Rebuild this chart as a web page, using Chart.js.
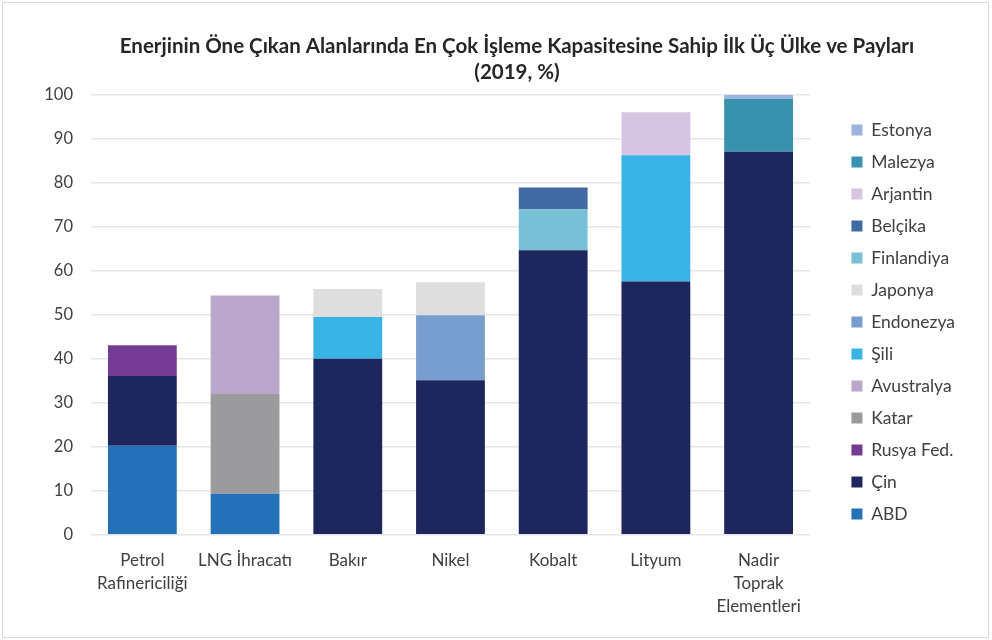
<!DOCTYPE html>
<html>
<head>
<meta charset="utf-8">
<script src="https://cdn.jsdelivr.net/npm/chart.js@4.4.1/dist/chart.umd.min.js"></script>
<style>
  html, body { margin: 0; padding: 0; background: #fff; }
  #wrap { position: relative; width: 992px; height: 640px; }
  #frame { position: absolute; left: 2px; top: 2px; width: 985px; height: 634px; border: 1px solid #d9d9d9; pointer-events: none; }
  canvas { display: block; }
</style>
</head>
<body>
<div id="wrap">
  <canvas id="c" width="992" height="640"></canvas>
  <div id="frame"></div>
</div>
<script>
  // kategoriler
  const categories = [
    ["Petrol", "Rafinericiliği"],
    "LNG İhracatı",
    "Bakır",
    "Nikel",
    "Kobalt",
    "Lityum",
    ["Nadir", "Toprak", "Elementleri"]
  ];

  // ülke payları (%), sırayla: Petrol, LNG, Bakır, Nikel, Kobalt, Lityum, Nadir T.E.
  const abd        = [20.2, 9.3, null, null, null, null, null];
  const cin        = [15.9, null, 40.0, 35.1, 64.7, 57.6, 87.1];
  const rusya      = [7.0, null, null, null, null, null, null];
  const katar      = [null, 22.7, null, null, null, null, null];
  const avustralya = [null, 22.4, null, null, null, null, null];
  const sili       = [null, null, 9.5, null, null, 28.7, null];
  const endonezya  = [null, null, null, 14.8, null, null, null];
  const japonya    = [null, null, 6.4, 7.5, null, null, null];
  const finlandiya = [null, null, null, null, 9.3, null, null];
  const belcika    = [null, null, null, null, 5.0, null, null];
  const arjantin   = [null, null, null, null, null, 9.8, null];
  const malezya    = [null, null, null, null, null, null, 12.0];
  const estonya    = [null, null, null, null, null, null, 0.9];

  const yTicks = [0, 10, 20, 30, 40, 50, 60, 70, 80, 90, 100];

  const series = [
    ["ABD", abd, "#2471b9"],
    ["Çin", cin, "#1e265e"],
    ["Rusya Fed.", rusya, "#743b95"],
    ["Katar", katar, "#9b9b9d"],
    ["Avustralya", avustralya, "#baa5cb"],
    ["Şili", sili, "#38b3e5"],
    ["Endonezya", endonezya, "#789dcf"],
    ["Japonya", japonya, "#dedede"],
    ["Finlandiya", finlandiya, "#78c0d6"],
    ["Belçika", belcika, "#3f6aa2"],
    ["Arjantin", arjantin, "#d5c5e0"],
    ["Malezya", malezya, "#3891ad"],
    ["Estonya", estonya, "#9ab5dc"]
  ];

  const FONT = "Lato, 'Open Sans', sans-serif";
  const TXT = "#404040";

  // başlık orijinalde biraz sağa kaymış
  const titleShift = {
    id: "titleShift",
    afterLayout(chart) {
      const t = chart.titleBlock;
      if (t) { t.left += 12; t.right += 12; }
    }
  };

  new Chart(document.getElementById("c"), {
    type: "bar",
    data: {
      labels: categories,
      datasets: series.map(s => ({
        label: s[0],
        data: s[1],
        backgroundColor: s[2],
        borderWidth: 0,
        categoryPercentage: 1.0,
        barPercentage: 0.67
      }))
    },
    options: {
      responsive: false,
      animation: false,
      layout: { padding: { left: 45, right: 27, top: 12, bottom: 8 } },
      scales: {
        x: {
          stacked: true,
          grid: { display: false, drawTicks: false },
          border: { display: false },
          ticks: { color: TXT, font: { family: FONT, size: 17, lineHeight: 1.36 }, padding: 14, maxRotation: 0 },
          afterFit: (s) => { s.paddingLeft = 0; s.paddingRight = 0; }
        },
        y: {
          stacked: true,
          min: 0,
          max: 100,
          afterBuildTicks: (axis) => { axis.ticks = yTicks.map(v => ({ value: v })); },
          grid: { color: "#e6e6e6", lineWidth: 1.5, drawTicks: false },
          border: { display: false },
          ticks: { color: TXT, font: { family: FONT, size: 16.5 }, padding: 18 },
          afterFit: (s) => { s.width = 46; }
        },
        // lejant ile çizim alanı arasında boşluk için görünmez eksen
        gap: {
          type: "linear",
          position: "right",
          display: true,
          grid: { display: false, drawTicks: false },
          border: { display: false },
          ticks: { display: false },
          afterFit: (s) => { s.width = 27; }
        }
      },
      plugins: {
        title: {
          display: true,
          text: ["Enerjinin Öne Çıkan Alanlarında En Çok İşleme Kapasitesine Sahip İlk Üç Ülke ve Payları", "(2019, %)"],
          color: "#262626",
          font: { family: FONT, size: 20.5, weight: "bold", lineHeight: 1.27 },
          padding: { top: 21, bottom: 10 }
        },
        legend: {
          position: "right",
          reverse: true,
          labels: {
            color: TXT,
            font: { family: FONT, size: 17.5 },
            boxWidth: 11,
            boxHeight: 11,
            padding: 14.5
          }
        },
        tooltip: { enabled: false }
      }
    },
    plugins: [titleShift]
  });
</script>
</body>
</html>
